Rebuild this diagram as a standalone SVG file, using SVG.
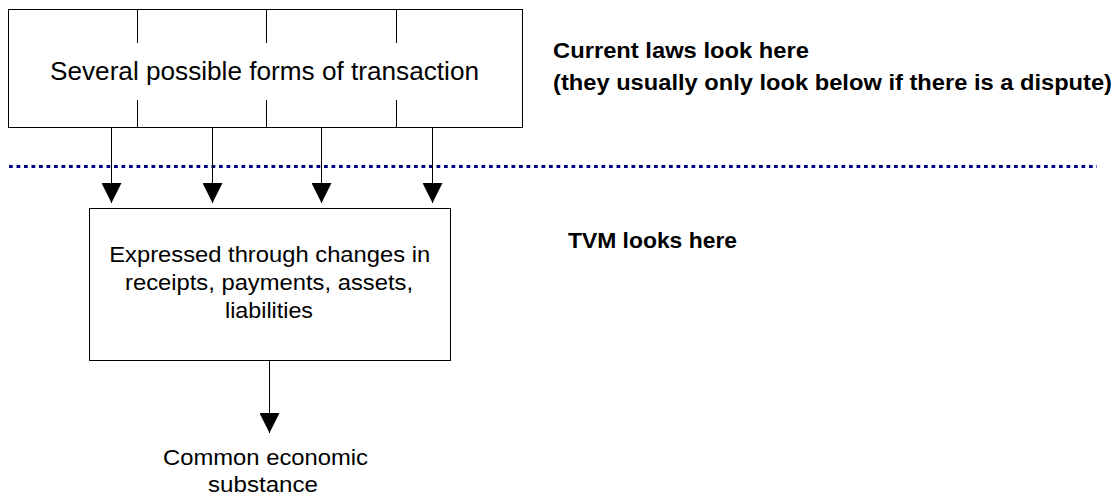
<svg xmlns="http://www.w3.org/2000/svg" width="1118" height="498" viewBox="0 0 1118 498">
  <defs>
    <marker id="arrow" viewBox="0 0 20 20" markerUnits="userSpaceOnUse" markerWidth="20" markerHeight="20" refX="20" refY="10" orient="auto">
      <path d="M0,0 L20,10 L0,20 z" fill="#000"/>
    </marker>
    <style>
      .box { fill: #fff; stroke: #000; stroke-width: 1; }
      .div { stroke: #000; stroke-width: 1; }
      .conn { stroke: #000; stroke-width: 1; fill: none; marker-end: url(#arrow); }
      .t { font-family: "Liberation Sans", Arial, sans-serif; fill: #000; }
      .n { font-size: 22.5px; text-anchor: middle; }
      .b { font-size: 21.5px; font-weight: bold; }
      .sep { stroke: #000080; stroke-width: 3; stroke-dasharray: 3.75 3.75; fill: none; }
    </style>
  </defs>
  <rect width="1118" height="498" fill="#fff"/>

  <g id="separator">
    <line class="sep" x1="9" y1="166.5" x2="1097" y2="166.5"/>
  </g>

  <g id="node-transactions">
    <rect class="box" x="8.5" y="9.5" width="514" height="118"/>
    <line class="div" x1="137.5" y1="9.5" x2="137.5" y2="43"/>
    <line class="div" x1="137.5" y1="100" x2="137.5" y2="127.5"/>
    <line class="div" x1="266.5" y1="9.5" x2="266.5" y2="43"/>
    <line class="div" x1="266.5" y1="100" x2="266.5" y2="127.5"/>
    <line class="div" x1="396.5" y1="9.5" x2="396.5" y2="43"/>
    <line class="div" x1="396.5" y1="100" x2="396.5" y2="127.5"/>
    <text class="t" x="50" y="79.5" font-size="25" textLength="429" lengthAdjust="spacingAndGlyphs">Several possible forms of transaction</text>
  </g>

  <g id="node-expressed">
    <rect class="box" x="89.5" y="208.5" width="361" height="152"/>
    <text class="t n" x="269.7" y="261.7" textLength="321" lengthAdjust="spacingAndGlyphs">Expressed through changes in</text>
    <text class="t n" x="269" y="290" textLength="288" lengthAdjust="spacingAndGlyphs">receipts, payments, assets,</text>
    <text class="t n" x="269" y="318.3" textLength="88" lengthAdjust="spacingAndGlyphs">liabilities</text>
  </g>

  <g id="node-substance">
    <text class="t n" x="265.5" y="465" textLength="205" lengthAdjust="spacingAndGlyphs">Common economic</text>
    <text class="t n" x="263" y="492" textLength="110" lengthAdjust="spacingAndGlyphs">substance</text>
  </g>

  <g id="label-current-laws">
    <text class="t b" x="553" y="58" textLength="256" lengthAdjust="spacingAndGlyphs">Current laws look here</text>
    <text class="t b" x="553" y="90" textLength="559" lengthAdjust="spacingAndGlyphs">(they usually only look below if there is a dispute)</text>
  </g>

  <g id="label-tvm">
    <text class="t b" x="568" y="248" textLength="169" lengthAdjust="spacingAndGlyphs">TVM looks here</text>
  </g>

  <g id="connectors">
    <line class="conn" x1="111.5" y1="127.5" x2="111.5" y2="203"/>
    <line class="conn" x1="212.5" y1="127.5" x2="212.5" y2="203"/>
    <line class="conn" x1="321.5" y1="127.5" x2="321.5" y2="203"/>
    <line class="conn" x1="432.5" y1="127.5" x2="432.5" y2="203"/>
    <line class="conn" x1="269.5" y1="360.5" x2="269.5" y2="433"/>
  </g>
</svg>
